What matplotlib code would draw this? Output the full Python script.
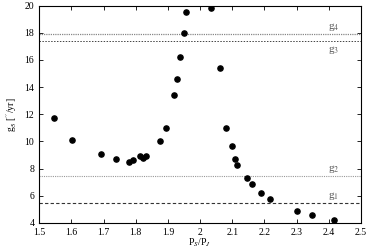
import matplotlib
matplotlib.use("Agg")
import matplotlib.pyplot as plt

# -----------------------------
# DATA
# -----------------------------
period_ratio = [1.546, 1.602, 1.693, 1.739, 1.778, 1.791, 1.812, 1.823, 1.833,
                1.875, 1.893, 1.920, 1.929, 1.939, 1.949, 1.955, 2.035, 2.062,
                2.081, 2.098, 2.109, 2.115, 2.147, 2.162, 2.190, 2.216, 2.300,
                2.347, 2.416]
g5 = [11.7, 10.1, 9.1, 8.7, 8.5, 8.6, 8.9, 8.8, 8.9,
      10.0, 11.0, 13.4, 14.6, 16.2, 18.0, 19.5, 19.8, 15.4,
      11.0, 9.7, 8.7, 8.3, 7.3, 6.9, 6.2, 5.8, 4.9,
      4.6, 4.25]

g_names = ["g$_1$", "g$_2$", "g$_3$", "g$_4$"]
g_values = [5.47, 7.44, 17.36, 17.92]

# -----------------------------
# PLOT
# -----------------------------
plt.rcParams["font.family"] = "Liberation Serif"
plt.rcParams["mathtext.fontset"] = "stix"
plt.rcParams["font.size"] = 7

fig, ax = plt.subplots(figsize=(3.66, 2.5), dpi=100)
fig.subplots_adjust(left=0.107, right=0.986, top=0.978, bottom=0.108)

styles = [
    dict(color="#333333", linestyle=(0, (3, 2)), linewidth=0.8),
    dict(color="#999999", linestyle=(0, (1, 1)), linewidth=0.8),
    dict(color="#444444", linestyle=(0, (1.5, 1.5)), linewidth=0.7),
    dict(color="#888888", linestyle=(0, (1, 0.8)), linewidth=0.9),
]
label_offsets = [0.5, 0.5, -0.6, 0.5]
for name, val, st, off in zip(g_names, g_values, styles, label_offsets):
    ax.axhline(val, **st)
    ax.text(2.415, val + off, name, ha="center", va="center",
            color="#555555", fontsize=8)

ax.scatter(period_ratio, g5, s=14, color="black", zorder=3)

ax.set_xlim(1.5, 2.5)
ax.set_ylim(4, 20)
ax.set_xticks([1.5, 1.6, 1.7, 1.8, 1.9, 2.0, 2.1, 2.2, 2.3, 2.4, 2.5])
ax.set_xticklabels(["1.5", "1.6", "1.7", "1.8", "1.9", "2", "2.1", "2.2",
                    "2.3", "2.4", "2.5"])
ax.set_yticks(range(4, 21, 2))
ax.tick_params(direction="in", top=True, right=True, length=3, width=0.6,
               pad=3.5, labelsize=7)
for sp in ax.spines.values():
    sp.set_linewidth(0.8)

ax.set_xlabel("P$_S$/P$_J$", fontsize=7, labelpad=0)
ax.set_ylabel("g$_5$ [$''$/yr]", fontsize=7, labelpad=4)

plt.savefig("out.png", dpi=100)
